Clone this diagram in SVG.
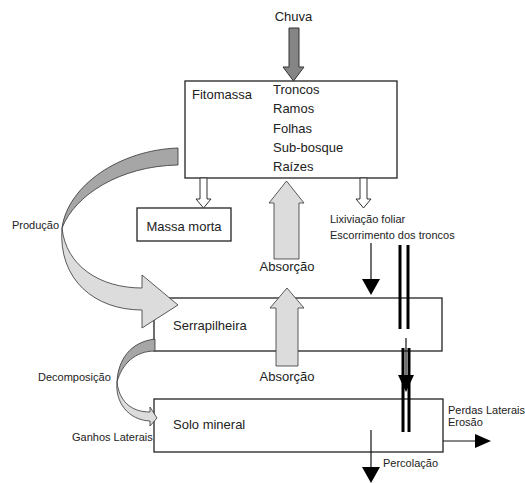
<svg xmlns="http://www.w3.org/2000/svg" width="525" height="483" viewBox="0 0 525 483">
<style>
.box{fill:#fff;stroke:#222;stroke-width:1.3}
.t13{font-family:"Liberation Sans",Arial,sans-serif;font-size:13px;fill:#222}
.t11{font-family:"Liberation Sans",Arial,sans-serif;font-size:11px;fill:#222}
.dark{fill:#a6a6a6;stroke:#333;stroke-width:0.8}
.light{fill:#dcdcdc;stroke:#333;stroke-width:0.8}
.hollow{fill:#fff;stroke:#333;stroke-width:1}
.line{stroke:#111;stroke-width:1.2;fill:none}
.bar{stroke:#000;stroke-width:3}
.head{fill:#000}
</style>
<rect width="525" height="483" fill="#fff"/>
<g id="fitomassa">
  <rect class="box" x="185" y="81" width="212" height="97"/>
  <text class="t13" x="192" y="99">Fitomassa</text>
  <text class="t13" x="273" y="94">Troncos</text>
  <text class="t13" x="273" y="113">Ramos</text>
  <text class="t13" x="273" y="133">Folhas</text>
  <text class="t13" x="273" y="152">Sub-bosque</text>
  <text class="t13" x="273" y="171">Raízes</text>
</g>
<g id="massa-morta">
  <rect class="box" x="137" y="208" width="94" height="33"/>
  <text class="t13" x="184" y="231" text-anchor="middle">Massa morta</text>
</g>
<g id="serrapilheira">
  <rect class="box" x="154" y="298" width="288" height="53"/>
  <text class="t13" x="173" y="330">Serrapilheira</text>
</g>
<g id="solo-mineral">
  <rect class="box" x="154" y="399" width="289" height="53"/>
  <text class="t13" x="173" y="429">Solo mineral</text>
</g>
<g id="connectors">
  <!-- Chuva arrow -->
  <polygon points="289,28 299,28 299,67 304,67 293.5,81 283,67 289,67" fill="#858585" stroke="#333" stroke-width="1"/>
  <!-- Produção curved arrow -->
  <path class="dark" d="M178,148 C120,150 68,185 62,228 C75,195 120,166 178,165 Z"/>
  <path class="light" d="M62,228 C66,266 100,288 142,288 L142,275 L178,305 L142,328 L142,310 C95,310 58,280 62,228 Z"/>
  <!-- Decomposição curved arrow -->
  <path class="dark" d="M155,339 C130,342 118,360 117,382 C122,364 135,351 155,351 Z"/>
  <path class="light" d="M117,382 C119,400 130,412 150,412 L150,407 L157,418 L150,426 L150,421 C128,420 115,402 117,382 Z"/>
  <!-- hollow arrows from Fitomassa -->
  <polygon class="hollow" points="200,178 207,178 207,199 211,199 203.5,208 196,199 200,199"/>
  <polygon class="hollow" points="360,178 367,178 367,199 371,199 363.5,208 356,199 360,199"/>
  <!-- Absorção arrows -->
  <polygon class="light" points="274,259 299,259 299,203 304,203 286.5,181 269,203 274,203"/>
  <polygon class="light" points="276,366 298,366 298,308 304,308 287,288 270,308 276,308"/>
  <!-- Lixiviação arrow -->
  <line class="line" x1="371" y1="243" x2="371" y2="280"/>
  <polygon class="head" points="362,279 380,279 371,295"/>
  <!-- Escorrimento double bars -->
  <line class="bar" x1="400" y1="245" x2="400" y2="329"/>
  <line class="bar" x1="408" y1="245" x2="408" y2="329"/>
  <line class="line" x1="406" y1="338" x2="406" y2="376"/>
  <line class="bar" x1="403" y1="348" x2="403" y2="432"/>
  <line class="bar" x1="409" y1="348" x2="409" y2="432"/>
  <polygon class="head" points="398,375 414,375 406,392"/>
  <!-- Perdas laterais arrow -->
  <line class="line" x1="443" y1="441" x2="477" y2="441"/>
  <polygon class="head" points="475,434 475,448 491,441"/>
  <!-- Percolação arrow -->
  <line class="line" x1="371" y1="430" x2="371" y2="468"/>
  <polygon class="head" points="362,467 380,467 371,483"/>
  <!-- labels -->
  <text class="t13" x="293.5" y="21" text-anchor="middle">Chuva</text>
  <text class="t11" x="12" y="229">Produção</text>
  <text class="t11" x="38" y="381">Decomposição</text>
  <text class="t11" x="72" y="441">Ganhos Laterais</text>
  <text class="t13" x="287" y="271" text-anchor="middle">Absorção</text>
  <text class="t13" x="287" y="381" text-anchor="middle">Absorção</text>
  <text class="t11" x="330" y="223">Lixiviação foliar</text>
  <text class="t11" x="330" y="239">Escorrimento dos troncos</text>
  <text class="t11" x="448" y="414">Perdas Laterais</text>
  <text class="t11" x="448" y="426">Erosão</text>
  <text class="t11" x="383" y="467">Percolação</text>
</g>
</svg>
